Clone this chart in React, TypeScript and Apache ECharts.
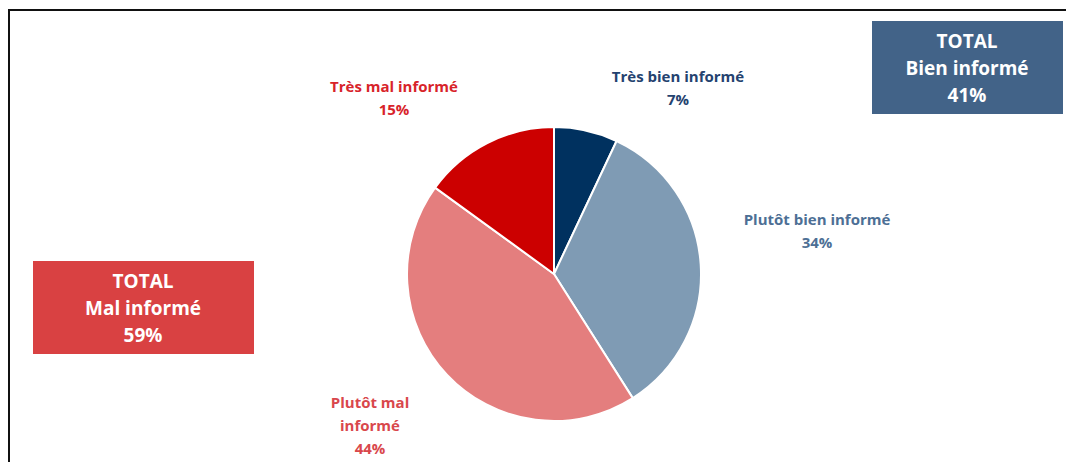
import React, { useEffect, useRef } from "react";
import * as echarts from "echarts";

const categories = ["Très bien informé", "Plutôt bien informé", "Plutôt mal informé", "Très mal informé"];
const labelTexts = ["Très bien informé", "Plutôt bien informé", "Plutôt mal\ninformé", "Très mal informé"];
const values = [7, 34, 44, 15];
const sliceColors = ["#00315f", "#7f9bb4", "#e47e7e", "#cc0000"];
const labelColors = ["#24426f", "#4d6f95", "#d9474c", "#d8232a"];
const labelPositions = [
  [678, 87],
  [817, 230],
  [370, 425],
  [394, 97],
];
const totalTitles = ["TOTAL\nBien informé", "TOTAL\nMal informé"];
const totalValues = [41, 59];

export default function App() {
  const ref = useRef<HTMLDivElement>(null);
  useEffect(() => {
    if (!ref.current) return;
    const chart = echarts.init(ref.current, null, { renderer: "svg" });
    const font = "'Open Sans', Lato, sans-serif";
    chart.setOption({
      animation: false,
      backgroundColor: "#ffffff",
      series: [
        {
          type: "pie",
          center: [554, 274],
          radius: [0, 147],
          startAngle: 90,
          clockwise: true,
          silent: true,
          itemStyle: { borderColor: "#ffffff", borderWidth: 2 },
          labelLine: { show: false },
          label: {
            show: true,
            position: "outside",
            fontFamily: font,
            fontWeight: "bold",
            fontSize: 15,
            lineHeight: 23,
            align: "center",
            formatter: (p: any) => labelTexts[p.dataIndex] + "\n" + p.value + "%",
          },
          labelLayout: (p: any) => ({
            x: labelPositions[p.dataIndex][0],
            y: labelPositions[p.dataIndex][1],
            align: "center",
            verticalAlign: "middle",
          }),
          data: categories.map((c, i) => ({
            name: c,
            value: values[i],
            itemStyle: { color: sliceColors[i] },
            label: { color: labelColors[i] },
          })),
        },
      ],
      graphic: [
        { type: "line", shape: { x1: 8, y1: 10, x2: 1066, y2: 10 }, style: { stroke: "#111", lineWidth: 2 } },
        { type: "line", shape: { x1: 9, y1: 9, x2: 9, y2: 462 }, style: { stroke: "#111", lineWidth: 2 } },
        {
          type: "group",
          children: [
            { type: "rect", shape: { x: 872, y: 21, width: 191, height: 93 }, style: { fill: "#426388" } },
            {
              type: "text",
              x: 967,
              y: 68,
              style: {
                text: totalTitles[0] + "\n" + totalValues[0] + "%",
                fill: "#ffffff",
                font: `bold 19px ${font}`,
                lineHeight: 27,
                align: "center",
                verticalAlign: "middle",
              },
            },
            { type: "rect", shape: { x: 33, y: 261, width: 221, height: 93 }, style: { fill: "#d94142" } },
            {
              type: "text",
              x: 143,
              y: 308,
              style: {
                text: totalTitles[1] + "\n" + totalValues[1] + "%",
                fill: "#ffffff",
                font: `bold 19px ${font}`,
                lineHeight: 27,
                align: "center",
                verticalAlign: "middle",
              },
            },
          ],
        },
      ],
    });
    return () => chart.dispose();
  }, []);
  return (
    <div
      ref={ref}
      style={{ position: "absolute", left: 0, top: 0, width: 1066, height: 462 }}
    />
  );
}
